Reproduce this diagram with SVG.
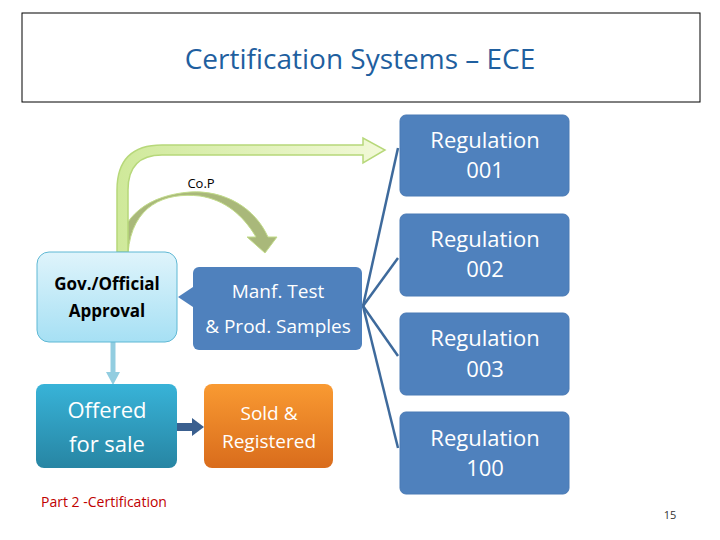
<svg xmlns="http://www.w3.org/2000/svg" width="720" height="540" viewBox="0 0 720 540">
<style>
text{font-family:"Open Sans","Liberation Sans",sans-serif;text-anchor:middle}
.reg rect{fill:#4f81bd;stroke:#4a7ab5}
.w{fill:#fff;font-size:22px}
</style>
<defs>
<linearGradient id="gl" x1="0" y1="0" x2="0" y2="1"><stop offset="0" stop-color="#dff4fb"/><stop offset="1" stop-color="#a6e0f4"/></linearGradient>
<linearGradient id="gt" x1="0" y1="0" x2="0" y2="1"><stop offset="0" stop-color="#38b3d8"/><stop offset="1" stop-color="#2785a3"/></linearGradient>
<linearGradient id="go" x1="0" y1="0" x2="0" y2="1"><stop offset="0" stop-color="#f99a32"/><stop offset="1" stop-color="#d96c1c"/></linearGradient>
<linearGradient id="gg" x1="0" y1="0" x2="1" y2="0"><stop offset="0" stop-color="#cfe99a"/><stop offset="1" stop-color="#f2f9d8"/></linearGradient>
</defs>
<rect x="22" y="13" width="678" height="89" fill="#fff" stroke="#000" stroke-width="1"/>
<text x="360" y="69" style="font-size:28px;fill:#1f5f9f;font-family:'Open Sans','Liberation Sans',sans-serif">Certification Systems – ECE</text>
<g id="connectors">
<path d="M128 253 C132 205 165 192 200 196 C225 200 243 215 256 237 L247 237 L265 253 L277 237 L268 237 C255 208 225 190 190 192 C150 195 120 215 118 253 Z" fill="#a9b87a" stroke="#c2dc8a" stroke-width="1"/>
<path d="M117 252 L117 190 Q117 145 162 145 L363 145 L363 138 L385 150 L363 163 L363 155 L162 155 Q128 155 128 190 L128 252 Z" fill="url(#gg)" stroke="#b7d87a" stroke-width="1.5"/>
<g stroke="#3e6a9c" stroke-width="2.5" fill="none">
<line x1="363" y1="306" x2="398" y2="148"/>
<line x1="363" y1="306" x2="398" y2="258"/>
<line x1="363" y1="306" x2="398" y2="356"/>
<line x1="363" y1="306" x2="398" y2="448"/>
</g>
<polygon points="193,287 178,297 193,307" fill="#4f81bd"/>
<line x1="113" y1="342" x2="113" y2="372" stroke="#92cde0" stroke-width="5"/>
<polygon points="106,372 120,372 113,385" fill="#92cde0"/>
<rect x="177" y="423" width="15" height="8" fill="#3a5f8f"/>
<polygon points="192,418 204,427 192,436" fill="#3a5f8f"/>
</g>
<g id="reg001" class="reg"><rect x="400" y="115" width="169" height="81" rx="6"/><text class="w" x="485" y="148">Regulation</text><text class="w" x="485" y="178">001</text></g>
<g id="reg002" class="reg"><rect x="400" y="214" width="169" height="82" rx="6"/><text class="w" x="485" y="247">Regulation</text><text class="w" x="485" y="277">002</text></g>
<g id="reg003" class="reg"><rect x="400" y="313" width="169" height="82" rx="6"/><text class="w" x="485" y="346">Regulation</text><text class="w" x="485" y="377">003</text></g>
<g id="reg100" class="reg"><rect x="400" y="412" width="169" height="82" rx="6"/><text class="w" x="485" y="446">Regulation</text><text class="w" x="485" y="476">100</text></g>
<g id="gov"><rect x="37" y="252" width="140" height="90" rx="12" fill="url(#gl)" stroke="#5fb8d4"/><text x="107" y="290" style="font-size:17px;font-weight:bold;fill:#000">Gov./Official</text><text x="107" y="317" style="font-size:17px;font-weight:bold;fill:#000">Approval</text></g>
<g id="manf"><rect x="193" y="267" width="169" height="83" rx="6" fill="#4f81bd"/><text x="278" y="298" style="font-size:19px;fill:#fff">Manf.  Test</text><text x="278" y="333" style="font-size:19px;fill:#fff">&amp; Prod. Samples</text></g>
<g id="offered"><rect x="36" y="384" width="141" height="84" rx="8" fill="url(#gt)"/><text x="107" y="418" style="font-size:22px;fill:#fff">Offered</text><text x="107" y="452" style="font-size:22px;fill:#fff">for sale</text></g>
<g id="sold"><rect x="204" y="384" width="129" height="84" rx="8" fill="url(#go)"/><text x="269" y="420" style="font-size:19px;fill:#fff">Sold &amp;</text><text x="269" y="448" style="font-size:19px;fill:#fff">Registered</text></g>
<text x="201" y="188" style="font-size:13px;fill:#000">Co.P</text>
<text x="104" y="507" style="font-size:14px;fill:#c00000">Part 2 -Certification</text>
<text x="670" y="519" style="font-size:11px;fill:#333">15</text>
</svg>
